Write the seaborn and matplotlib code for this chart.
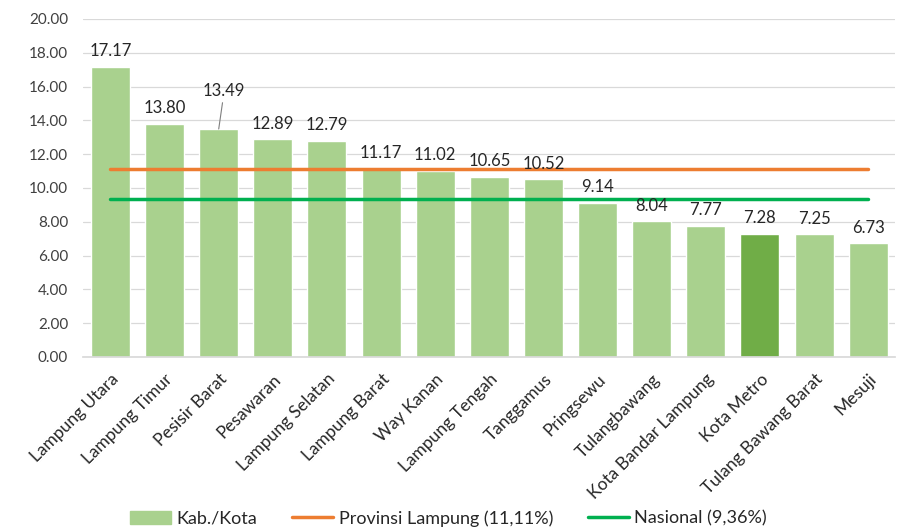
import matplotlib
matplotlib.use("Agg")
import matplotlib.pyplot as plt
import seaborn as sns
import pandas as pd
from matplotlib.patches import Patch
from matplotlib.lines import Line2D

categories = ["Lampung Utara", "Lampung Timur", "Pesisir Barat", "Pesawaran",
              "Lampung Selatan", "Lampung Barat", "Way Kanan", "Lampung Tengah",
              "Tanggamus", "Pringsewu", "Tulangbawang", "Kota Bandar Lampung",
              "Kota Metro", "Tulang Bawang Barat", "Mesuji"]
values = [17.17, 13.80, 13.49, 12.89, 12.79, 11.17, 11.02, 10.65, 10.52,
          9.14, 8.04, 7.77, 7.28, 7.25, 6.73]
provinsi = 11.11
nasional = 9.36
highlight = "Kota Metro"

sns.set_theme(style="white")
plt.rcParams['font.family'] = ['Lato', 'DejaVu Sans']

df = pd.DataFrame({"cat": categories, "val": values})
light = "#A9D18E"
dark = "#70AD47"
palette = {c: (dark if c == highlight else light) for c in categories}

fig = plt.figure(figsize=(8.97, 5.27), dpi=100)
ax = fig.add_axes([0.093, 0.3226, 0.905, 0.6414])

sns.barplot(data=df, x="cat", y="val", hue="cat", palette=palette,
            dodge=False, legend=False, width=0.72, saturation=1, ax=ax, zorder=2)

x = list(range(len(categories)))
ax.plot(x, [provinsi] * len(x), color="#ED7D31", lw=2.5, zorder=3)
ax.plot(x, [nasional] * len(x), color="#00B050", lw=2.5, zorder=3)

for i, v in enumerate(values):
    if categories[i] == "Pesisir Barat":
        ax.annotate(f"{v:.2f}", xy=(i, v), xytext=(i + 0.1, v + 1.75),
                    ha="center", va="bottom", fontsize=12, color="#262626",
                    arrowprops=dict(arrowstyle="-", color="#7f7f7f", lw=0.8,
                                    shrinkA=0, shrinkB=0), zorder=4)
    else:
        ax.text(i, v + 0.45, f"{v:.2f}", ha="center", va="bottom",
                fontsize=12, color="#262626", zorder=4)

ax.set_ylim(0, 20)
ax.set_xlim(-0.5, len(categories) - 0.5)
ax.set_yticks([i * 2 for i in range(11)])
ax.set_yticklabels([f"{i * 2:.2f}" for i in range(11)], fontsize=11, color="#404040")
ax.set_xticks(x)
ax.set_xticklabels(categories, rotation=45, ha="right", rotation_mode="anchor",
                   fontsize=12.5, color="#262626")
ax.tick_params(axis="x", length=0, pad=10)
ax.tick_params(axis="y", length=0, pad=11)
ax.set_xlabel("")
ax.set_ylabel("")
ax.yaxis.grid(True, color="#D9D9D9", lw=0.9, zorder=0)
ax.set_axisbelow(True)
for s in ["top", "right", "left"]:
    ax.spines[s].set_visible(False)
ax.spines["bottom"].set_color("#D9D9D9")

handles = [Patch(color=light, label="Kab./Kota"),
           Line2D([0], [0], color="#ED7D31", lw=2.5, label="Provinsi Lampung (11,11%)"),
           Line2D([0], [0], color="#00B050", lw=2.5, label="Nasional (9,36%)")]
fig.legend(handles=handles, loc="lower center", bbox_to_anchor=(0.5, -0.03),
           ncol=3, frameon=False, fontsize=13, handlelength=2.3,
           handletextpad=0.3, columnspacing=1.9)

fig.savefig("out.png", dpi=100)
